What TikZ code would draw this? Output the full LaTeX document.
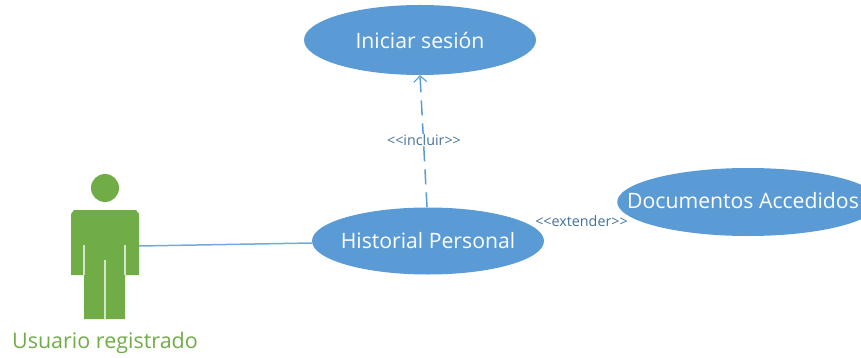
\documentclass[tikz,border=0pt]{standalone}
\usepackage{fontspec}
\setmainfont{Open Sans}
\usetikzlibrary{shapes.geometric,arrows.meta}
\definecolor{ucblue}{HTML}{5B9BD5}
\definecolor{ucgreen}{HTML}{70AD47}
\definecolor{lbl}{HTML}{44729F}
\tikzset{
  usecase/.style={ellipse,fill=ucblue,draw=none,inner sep=-12pt,text=white,font=\fontsize{21.2}{24}\selectfont},
  stereo/.style={fill=white,inner xsep=0pt,inner ysep=0pt,text=lbl,font=\fontsize{14.3}{16}\selectfont},
  assoc/.style={draw=ucblue!85,line width=1.5pt},
  incl/.style={draw=ucblue,line width=1.5pt,dash pattern=on 15pt off 8pt,-{Straight Barb[length=6pt,width=13pt,line width=1.1pt]}},
  actorpart/.style={fill=ucgreen,draw=none},
  slit/.style={draw=white!70!ucgreen,line width=1.2pt}
}
\begin{document}
\begin{tikzpicture}[x=1pt,y=-1pt]
\useasboundingbox (0,0) rectangle (861,358);
\clip (0,0) rectangle (861,358);
\node[usecase,minimum width=232pt,minimum height=70pt] (login) at (420,40) {Iniciar sesión};
\node[usecase,minimum width=232pt,minimum height=67pt] (hist) at (428,241) {Historial Personal};
\node[usecase,minimum width=262pt,minimum height=68pt,anchor=west] (docs) at (617,202) {};
\node[text=white,font=\fontsize{21.2}{24}\selectfont,anchor=west,inner sep=0pt] (docslabel) at (627,201) {Documentos Accedidos};
% actor
\node[circle,actorpart,minimum size=28pt,inner sep=0pt] (head) at (105,188) {};
\fill[ucgreen] (74,210) -- (136,210) -- (139,214) -- (139,275) -- (125,275) -- (125,319) -- (84,319) -- (84,275) -- (71,275) -- (71,214) -- cycle;
\draw[slit] (84,245) -- (84,275);
\draw[slit] (125,245) -- (125,275);
\draw[slit] (105,260) -- (105,319);
\coordinate (hand) at (139,246);
\node[text=ucgreen,font=\fontsize{21.5}{24}\selectfont,inner sep=0pt] (user) at (105,343) {Usuario registrado};
% connectors
\draw[assoc] (hand) -- (hist);
\draw[incl] (hist.north) ++(-1,0) -- (login.south);
\node[stereo] (inc) at (424,140) {<{}<incluir>{}>};
\node[stereo] (ext) at (581.5,221) {<{}<extender>{}>};
\end{tikzpicture}
\end{document}
